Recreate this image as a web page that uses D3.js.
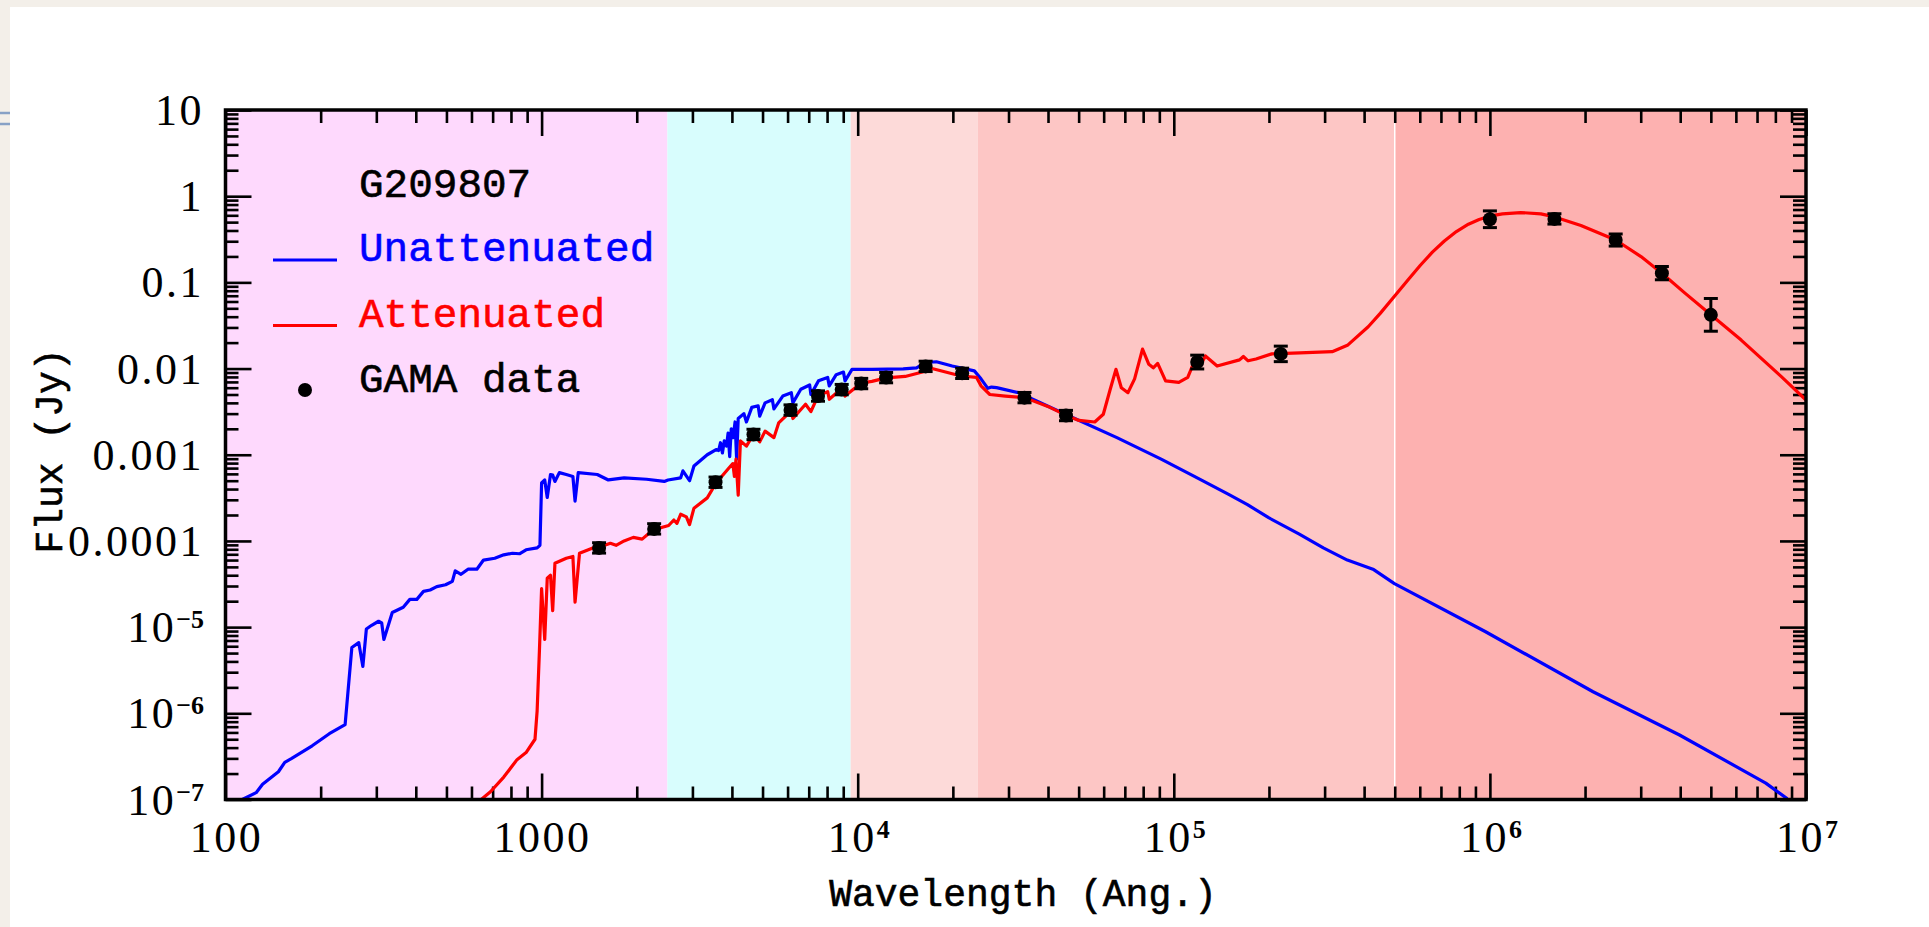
<!DOCTYPE html>
<html>
<head>
<meta charset="utf-8">
<script src="https://cdn.jsdelivr.net/npm/d3@7"></script>
<style>
  body { margin: 0; background: #f3efe9; }
  svg { display: block; }
</style>
</head>
<body>
<script>
const width = 1929;
const height = 927;

// wavelength bands shaded behind the SED (Angstrom)
const bandEdges = [100, 2500, 9500, 24000, 5e5, 1e7];
const bandColors = ["#fed9fd", "#d8fdfd", "#fddad9", "#fdc6c5", "#fdb1b0"];

// tick labels
const xMajor = [100, 1000, 1e4, 1e5, 1e6, 1e7];
const xLabels = [["100", ""], ["1000", ""], ["10", "4"], ["10", "5"], ["10", "6"], ["10", "7"]];
const yMajor = [10, 1, 0.1, 0.01, 0.001, 1e-4, 1e-5, 1e-6, 1e-7];
const yLabels = [["10", ""], ["1", ""], ["0.1", ""], ["0.01", ""], ["0.001", ""], ["0.0001", ""],
                 ["10", "\u22125"], ["10", "\u22126"], ["10", "\u22127"]];

// unattenuated model [wavelength (Ang), flux (Jy)]
const unattenuated = [
  [113, 1.0e-7], [125, 1.2e-7], [131, 1.5e-7], [147, 2.1e-7], [154, 2.7e-7], [162, 3.0e-7],
  [188, 4.2e-7], [213, 5.8e-7], [239, 7.4e-7], [251, 5.8e-6], [264, 6.6e-6], [272, 3.5e-6],
  [279, 9.5e-6], [290, 1.05e-5], [305, 1.17e-5], [312, 1.12e-5], [317, 7.2e-6], [337, 1.48e-5],
  [365, 1.7e-5], [383, 2.1e-5], [403, 2.1e-5], [423, 2.6e-5], [444, 2.7e-5], [466, 2.95e-5],
  [497, 3.1e-5], [522, 3.4e-5], [533, 4.5e-5], [556, 4.1e-5], [585, 4.7e-5], [624, 4.7e-5],
  [655, 6.0e-5], [711, 6.3e-5], [759, 6.9e-5], [809, 7.2e-5], [851, 7.1e-5], [893, 7.9e-5],
  [968, 8.3e-5], [988, 8.9e-5], [1000, 4.7e-4], [1023, 5.1e-4], [1042, 3.2e-4], [1067, 5.9e-4],
  [1084, 5.8e-4], [1102, 4.9e-4], [1138, 6.2e-4], [1197, 5.9e-4], [1256, 5.6e-4], [1276, 2.9e-4],
  [1306, 6.2e-4], [1500, 5.9e-4], [1626, 5.1e-4], [1824, 5.4e-4], [2148, 5.2e-4], [2443, 4.9e-4],
  [2512, 5.1e-4], [2754, 5.4e-4], [2799, 6.5e-4], [2938, 5.0e-4], [3034, 7.4e-4], [3342, 1.0e-3],
  [3565, 1.15e-3], [3631, 1.12e-3], [3681, 1.38e-3], [3733, 1.05e-3], [3784, 1.45e-3],
  [3846, 1.26e-3], [3890, 1.78e-3], [3936, 9.5e-4], [3981, 2.0e-3], [4036, 1.58e-3],
  [4093, 2.4e-3], [4140, 8.9e-4], [4188, 2.63e-3], [4365, 3.0e-3], [4446, 2.4e-3],
  [4624, 3.55e-3], [4842, 3.7e-3], [4898, 2.8e-3], [5093, 4.0e-3], [5370, 4.35e-3],
  [5433, 3.4e-3], [5794, 4.8e-3], [6166, 5.25e-3], [6237, 4.0e-3], [6607, 5.75e-3],
  [7047, 6.45e-3], [7112, 5.0e-3], [7516, 7.2e-3], [8035, 7.9e-3], [8128, 6.3e-3],
  [8551, 8.5e-3], [9016, 9.1e-3], [9120, 7.2e-3], [9594, 9.8e-3], [11092, 9.8e-3],
  [13930, 9.9e-3], [15350, 1.02e-2], [16370, 1.17e-2], [17740, 1.2e-2], [19910, 1.07e-2],
  [23390, 9.4e-3], [24550, 7.6e-3], [25800, 5.9e-3], [26500, 6.1e-3], [27500, 6.0e-3],
  [32280, 5.25e-3], [36810, 4.2e-3], [45390, 2.95e-3], [66070, 1.58e-3], [91200, 8.9e-4],
  [118600, 5.4e-4], [148600, 3.5e-4], [171000, 2.64e-4], [199500, 1.86e-4], [249500, 1.2e-4],
  [297200, 8.3e-5], [354000, 6.0e-5], [426600, 4.7e-5], [498900, 3.2e-5], [966000, 8.9e-6],
  [2.12e6, 1.78e-6], [3.98e6, 5.6e-7], [7.46e6, 1.55e-7], [8.73e6, 1.02e-7]
];

// attenuated model [wavelength (Ang), flux (Jy)]
const attenuated = [
  [644, 1.0e-7], [689, 1.23e-7], [759, 1.82e-7], [836, 2.9e-7], [893, 3.5e-7], [953, 5.0e-7],
  [968, 1.07e-6], [984, 5.2e-6], [1000, 2.8e-5], [1023, 7.2e-6], [1042, 3.7e-5], [1067, 4.0e-5],
  [1084, 1.55e-5], [1102, 5.5e-5], [1197, 6.3e-5], [1256, 6.6e-5], [1276, 1.95e-5],
  [1318, 7.2e-5], [1452, 8.3e-5], [1528, 8.5e-5], [1650, 9.4e-5], [1720, 8.9e-5],
  [1824, 1.0e-4], [1950, 1.1e-4], [2080, 1.05e-4], [2254, 1.35e-4], [2380, 1.42e-4],
  [2523, 1.51e-4], [2620, 1.75e-4], [2680, 1.6e-4], [2754, 2.04e-4], [2871, 1.9e-4],
  [2938, 1.55e-4], [3034, 2.4e-4],
  [3342, 3.16e-4], [3565, 4.7e-4], [3926, 7.1e-4], [4027, 7.9e-4], [4074, 5.6e-4],
  [4121, 8.9e-4], [4188, 3.4e-4], [4256, 1.45e-3], [4446, 1.26e-3], [4688, 1.74e-3],
  [4898, 1.41e-3], [5093, 1.88e-3], [5433, 1.58e-3], [5623, 2.34e-3], [6166, 3.24e-3],
  [6237, 2.63e-3], [6839, 3.85e-3], [7112, 3.16e-3], [7482, 4.8e-3], [8035, 5.4e-3],
  [8128, 4.4e-3], [8913, 5.9e-3], [9120, 4.8e-3], [10260, 6.8e-3], [11092, 7.1e-3],
  [12300, 7.8e-3], [14130, 8.1e-3], [16370, 9.3e-3], [17180, 1.0e-2], [21230, 8.2e-3],
  [23770, 7.9e-3], [24550, 6.3e-3], [26180, 5.0e-3], [29310, 4.8e-3], [33730, 4.6e-3],
  [40550, 3.55e-3], [45390, 2.9e-3], [50120, 2.5e-3], [56230, 2.4e-3], [59840, 2.95e-3],
  [62810, 5.6e-3], [65610, 9.8e-3], [68230, 6.0e-3], [71610, 5.25e-3], [75160, 7.6e-3],
  [79620, 1.68e-2], [83370, 1.12e-2], [86100, 1.02e-2], [88920, 1.15e-2], [94190, 7.2e-3],
  [103700, 6.9e-3], [110700, 7.9e-3], [115100, 1.12e-2], [118600, 1.2e-2], [120200, 1.02e-2],
  [125900, 1.4e-2], [137100, 1.07e-2], [161400, 1.26e-2], [166000, 1.38e-2], [171800, 1.23e-2],
  [182000, 1.29e-2], [204200, 1.48e-2], [250600, 1.52e-2], [317000, 1.57e-2], [355600, 1.88e-2],
  [412100, 3.06e-2], [449800, 4.37e-2], [505800, 7.33e-2], [552100, 0.108], [602600, 0.158],
  [657700, 0.224], [717800, 0.302], [783400, 0.389], [855100, 0.473], [924700, 0.537],
  [997700, 0.586], [1.096e6, 0.624], [1.250e6, 0.646], [1.449e6, 0.624], [1.603e6, 0.575],
  [1.941e6, 0.457], [2.500e6, 0.310], [3.006e6, 0.199], [3.508e6, 0.127], [4.150e6, 7.46e-2],
  [5.012e6, 4.19e-2], [6.237e6, 2.14e-2], [8.356e6, 8.05e-3], [1.0e7, 4.32e-3]
];

// GAMA photometry
const gamaWave = [1520, 2270, 3550, 4680, 6130, 7490, 8900, 10260, 12300, 16400, 21400,
                  33700, 45600, 118600, 218000, 1.0e6, 1.6e6, 2.5e6, 3.5e6, 5.0e6];
const gamaFlux = [8.3e-5, 1.38e-4, 4.8e-4, 1.72e-3, 3.3e-3, 4.8e-3, 5.7e-3, 6.7e-3, 7.85e-3,
                  1.06e-2, 8.8e-3, 4.6e-3, 2.85e-3, 1.19e-2, 1.48e-2, 0.54, 0.545, 0.31, 0.128, 0.042];
// error bar half-length in dex
const gamaErrDex = [0.06, 0.06, 0.06, 0.06, 0.06, 0.06, 0.06, 0.06, 0.06, 0.06, 0.06,
                    0.06, 0.06, 0.08, 0.09, 0.097, 0.06, 0.07, 0.077, 0.19];

const legendItems = ["Unattenuated", "Attenuated"];
const legendColors = ["#0000ff", "#ff0000"];

const margin = {left: 225.5, right: 1806, top: 110, bottom: 799.5};

const x = d3.scaleLog().domain([100, 1e7]).range([margin.left, margin.right]);
const y = d3.scaleLog().domain([1e-7, 10]).range([margin.bottom, margin.top]);

const svg = d3.select("body").append("svg")
    .attr("width", width)
    .attr("height", height);

// slide background
svg.append("rect").attr("x", 10).attr("y", 7)
    .attr("width", width - 10).attr("height", height - 7)
    .attr("fill", "white");
svg.append("g").attr("stroke", "#87a1c6").attr("stroke-width", 2.5)
  .selectAll("line").data([113, 124]).join("line")
    .attr("x1", 0).attr("x2", 10).attr("y1", d => d).attr("y2", d => d);

svg.append("clipPath").attr("id", "plotclip")
  .append("rect")
    .attr("x", margin.left).attr("y", margin.top)
    .attr("width", margin.right - margin.left).attr("height", margin.bottom - margin.top);

// bands
svg.append("g").selectAll("rect")
  .data(bandColors)
  .join("rect")
    .attr("x", (d, i) => x(bandEdges[i]))
    .attr("width", (d, i) => x(bandEdges[i + 1]) - x(bandEdges[i]))
    .attr("y", margin.top)
    .attr("height", margin.bottom - margin.top)
    .attr("fill", d => d);
svg.append("line")
    .attr("x1", x(5e5)).attr("x2", x(5e5))
    .attr("y1", margin.top).attr("y2", margin.bottom)
    .attr("stroke", "white").attr("stroke-width", 1.5);

// minor tick values
const xMinor = [];
for (let e = 2; e < 7; e++) for (let k = 2; k < 10; k++) xMinor.push(k * Math.pow(10, e));
const yMinor = [];
for (let e = -7; e < 1; e++) for (let k = 2; k < 10; k++) yMinor.push(k * Math.pow(10, e));

function ticks(axis, values, len) {
  return axis.tickValues(values).tickSize(-len).tickFormat("");
}
const axes = [
  [d3.axisBottom, x, `translate(0,${margin.bottom})`],
  [d3.axisTop, x, `translate(0,${margin.top})`],
  [d3.axisLeft, y, `translate(${margin.left},0)`],
  [d3.axisRight, y, `translate(${margin.right},0)`]
];
axes.forEach(([fn, sc, tr]) => {
  const major = sc === x ? xMajor : yMajor;
  const minor = sc === x ? xMinor : yMinor;
  [[major, 26], [minor, 13]].forEach(([vals, len]) => {
    const g = svg.append("g").attr("transform", tr).call(ticks(fn(sc), vals, len));
    g.select(".domain").remove();
    g.selectAll("line").attr("stroke", "black").attr("stroke-width", 2.6);
  });
});

// curves
const line = d3.line().x(d => x(d[0])).y(d => y(d[1]));
const curves = svg.append("g").attr("clip-path", "url(#plotclip)");
curves.append("path").datum(unattenuated)
    .attr("d", line).attr("fill", "none")
    .attr("stroke", legendColors[0]).attr("stroke-width", 3.2).attr("stroke-linejoin", "round");
curves.append("path").datum(attenuated)
    .attr("d", line).attr("fill", "none")
    .attr("stroke", legendColors[1]).attr("stroke-width", 3.2).attr("stroke-linejoin", "round");

// data points
const pts = svg.append("g").selectAll("g")
  .data(gamaWave.map((w, i) => ({w: w, f: gamaFlux[i], e: gamaErrDex[i]})))
  .join("g");
pts.append("line")
    .attr("x1", d => x(d.w)).attr("x2", d => x(d.w))
    .attr("y1", d => y(d.f * Math.pow(10, d.e))).attr("y2", d => y(d.f / Math.pow(10, d.e)))
    .attr("stroke", "black").attr("stroke-width", 3);
pts.selectAll(".cap")
  .data(d => [[d.w, d.f * Math.pow(10, d.e)], [d.w, d.f / Math.pow(10, d.e)]])
  .join("line")
    .attr("x1", d => x(d[0]) - 7).attr("x2", d => x(d[0]) + 7)
    .attr("y1", d => y(d[1])).attr("y2", d => y(d[1]))
    .attr("stroke", "black").attr("stroke-width", 3);
pts.append("circle")
    .attr("cx", d => x(d.w)).attr("cy", d => y(d.f))
    .attr("r", 7).attr("fill", "black");

// frame
svg.append("rect")
    .attr("x", margin.left).attr("y", margin.top)
    .attr("width", margin.right - margin.left).attr("height", margin.bottom - margin.top)
    .attr("fill", "none").attr("stroke", "black").attr("stroke-width", 3.5);

// tick labels
const serif = "'Liberation Serif', 'Times New Roman', serif";
const xl = svg.append("g").attr("font-family", serif).attr("font-size", 44)
    .attr("letter-spacing", 2.5)
  .selectAll("text").data(xLabels).join("text")
    .attr("x", (d, i) => x(xMajor[i]) + 1)
    .attr("y", 852)
    .attr("text-anchor", "middle");
xl.append("tspan").text(d => d[0]);
xl.append("tspan").attr("font-size", 26).attr("font-weight", "bold").attr("dy", -14)
    .attr("letter-spacing", 0).text(d => d[1]);

const yl = svg.append("g").attr("font-family", serif).attr("font-size", 44)
    .attr("letter-spacing", 2.5)
  .selectAll("text").data(yLabels).join("text")
    .attr("x", 204)
    .attr("y", (d, i) => y(yMajor[i]) + 15)
    .attr("text-anchor", "end");
yl.append("tspan").text(d => d[0]);
yl.append("tspan").attr("font-size", 26).attr("font-weight", "bold").attr("dy", -14)
    .attr("letter-spacing", 0).text(d => d[1]);

// axis titles
const mono = "'Liberation Mono', 'Courier New', monospace";
svg.append("text")
    .attr("x", 1023).attr("y", 906)
    .attr("text-anchor", "middle")
    .attr("font-family", mono).attr("font-size", 38)
    .attr("stroke", "black").attr("stroke-width", 0.6)
    .text("Wavelength (Ang.)");
svg.append("text")
    .attr("transform", "translate(62,451) rotate(-90)")
    .attr("text-anchor", "middle")
    .attr("font-family", mono).attr("font-size", 38)
    .attr("stroke", "black").attr("stroke-width", 0.6)
    .text("Flux (Jy)");

// legend
const leg = svg.append("g").attr("font-family", mono).attr("font-size", 41).attr("stroke-width", 0.6);
leg.append("text").attr("x", 359).attr("y", 197).attr("fill", "black").attr("stroke", "black").text("G209807");
legendItems.forEach((name, i) => {
  const yy = 260 + i * 65.5;
  leg.append("line").attr("x1", 273).attr("x2", 337).attr("y1", yy).attr("y2", yy)
      .attr("stroke", legendColors[i]).attr("stroke-width", 3.2);
  leg.append("text").attr("x", 359).attr("y", yy + 1)
      .attr("fill", legendColors[i]).attr("stroke", legendColors[i]).text(name);
});
leg.append("circle").attr("cx", 305).attr("cy", 390).attr("r", 7).attr("fill", "black");
leg.append("text").attr("x", 359).attr("y", 392).attr("fill", "black").attr("stroke", "black").text("GAMA data");
</script>
</body>
</html>
